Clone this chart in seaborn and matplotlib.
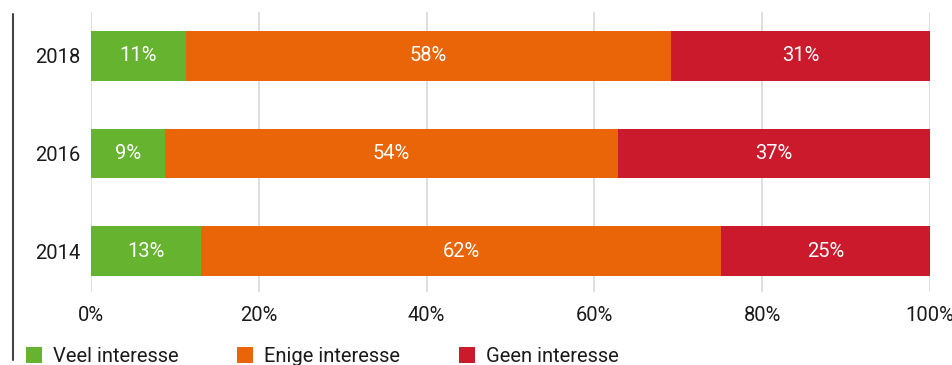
import matplotlib
matplotlib.use("Agg")
import matplotlib.pyplot as plt
from matplotlib.lines import Line2D
from matplotlib.patches import Patch
import seaborn as sns
import pandas as pd
import numpy as np

years = ["2018", "2016", "2014"]
veel = [11.3, 8.8, 13.1]
enige = [57.8, 54.0, 62.0]
geen = [30.9, 37.2, 24.9]
series_names = ["Veel interesse", "Enige interesse", "Geen interesse"]
colors = ["#65B32E", "#EA6508", "#CB1A2C"]

sns.set_theme(style="white")
plt.rcParams["font.family"] = ["Roboto", "DejaVu Sans"]

fig = plt.figure(figsize=(9.53, 3.65), dpi=100)
ax = fig.add_axes([91 / 953, 1 - 292 / 365, (930 - 91) / 953, (292 - 12) / 365])

df = pd.DataFrame({"year": years, "veel": veel, "enige": enige, "geen": geen})
df["c1"] = df["veel"]
df["c2"] = df["veel"] + df["enige"]
df["c3"] = df["c2"] + df["geen"]

# draw cumulative totals from largest to smallest so they stack visually
for col, color in zip(["c3", "c2", "c1"], colors[::-1]):
    sns.barplot(data=df, x=col, y="year", order=years, color=color,
                width=0.51, orient="h", ax=ax, saturation=1, zorder=3,
                edgecolor="none", linewidth=0)

# segment labels
for i, yr in enumerate(years):
    starts = [0, df["c1"][i], df["c2"][i]]
    vals = [veel[i], enige[i], geen[i]]
    for s, v in zip(starts, vals):
        ax.text(s + v / 2, i, f"{round(v)}%", ha="center", va="center",
                color="white", fontsize=14.5, zorder=5)

ax.set_xlim(0, 100)
ax.set_ylim(2.42, -0.45)
ax.set_xticks([0, 20, 40, 60, 80, 100])
ax.set_xticklabels([f"{t}%" for t in [0, 20, 40, 60, 80, 100]])
ax.xaxis.grid(True, color="#DCDCDC", linewidth=1.3, zorder=0)
ax.yaxis.grid(False)
ax.set_axisbelow(True)
for sp in ax.spines.values():
    sp.set_visible(False)
ax.tick_params(axis="x", length=0, pad=10, labelsize=14.5, labelcolor="#1a1a1a")
ax.tick_params(axis="y", length=0, pad=8, labelsize=14.5, labelcolor="#1a1a1a")
ax.set_xlabel("")
ax.set_ylabel("")

# decorative vertical line at left
fig.add_artist(Line2D([13 / 953, 13 / 953], [1 - 14 / 365, 1 - 360 / 365],
                      transform=fig.transFigure, color="#444444", linewidth=1.5))

handles = [Patch(facecolor=c, edgecolor="none") for c in colors]
fig.legend(handles, series_names, loc="lower left", ncol=3,
           bbox_to_anchor=(18 / 953, -0.025), frameon=False, fontsize=14.5,
           handlelength=0.8, handleheight=0.8, handletextpad=0.55,
           columnspacing=2.9, borderaxespad=0.0, labelcolor="#1a1a1a")

fig.savefig("out.png", dpi=100)
